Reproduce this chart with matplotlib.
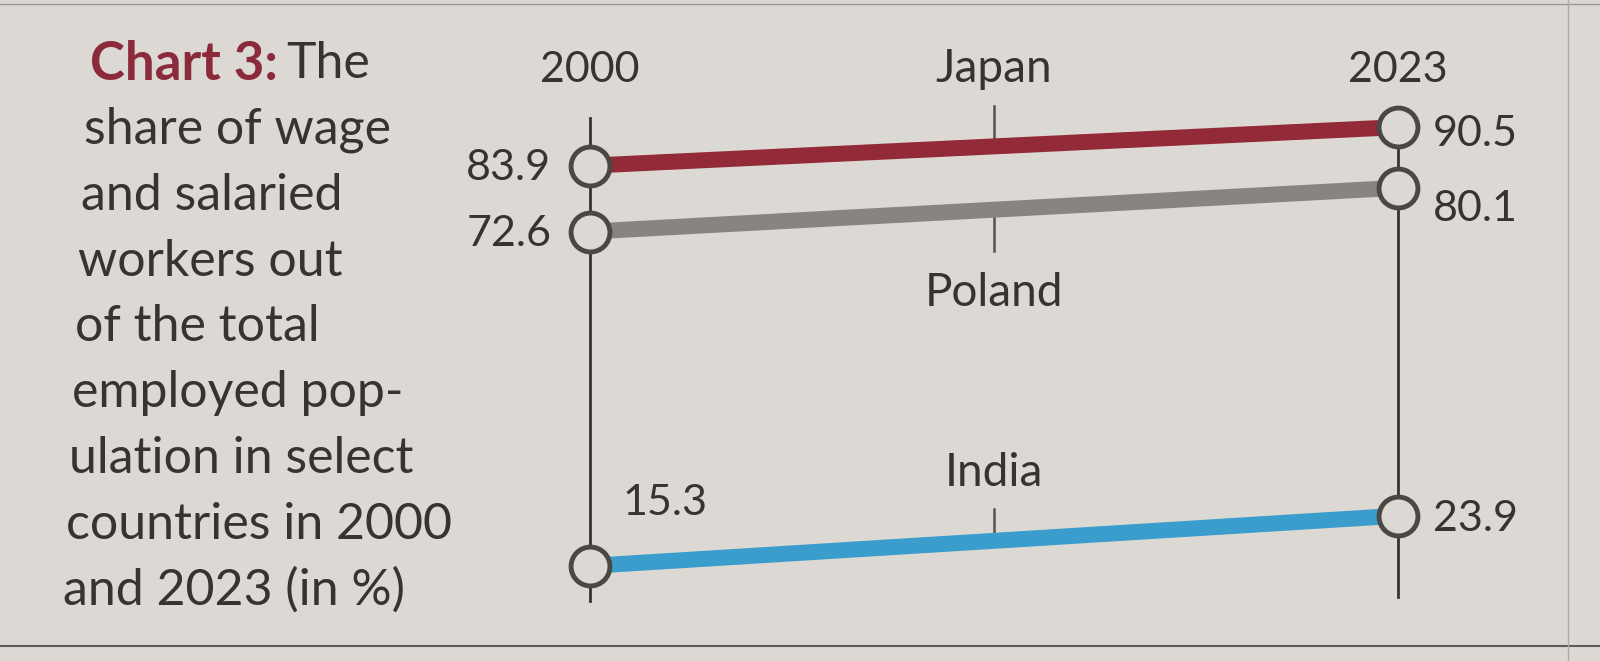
import matplotlib.pyplot as plt

countries = ["Japan", "Poland", "India"]
years = ["2000", "2023"]
share_2000 = [83.9, 72.6, 15.3]
share_2023 = [90.5, 80.1, 23.9]
colors = ["#922a37", "#8a8480", "#3a9dcb"]

caption = ["share of wage", "and salaried", "workers out", "of the total",
           "employed pop-", "ulation in select", "countries in 2000",
           "and 2023 (in %)"]

bg = "#dcd9d4"
ink = "#363432"
plt.rcParams['font.family'] = ['Lato', 'DejaVu Sans']

fig = plt.figure(figsize=(16, 6.61), dpi=100, facecolor=bg)

# caption block on the left (slight slant like the printed page)
fig.text(90 / 1600, 1 - 64 / 661, "Chart 3:", color="#8b2a3a", fontsize=38,
         fontweight="bold", va="center", ha="left")
fig.text(286 / 1600, 1 - 64 / 661, "The", color=ink, fontsize=36, va="center", ha="left")
for i, line in enumerate(caption):
    fig.text((84 - i * 3) / 1600, 1 - (130 + i * 65.8) / 661, line, color=ink,
             fontsize=36, va="center", ha="left")

# frame lines of the newspaper box
fig.add_artist(plt.Line2D([0, 1], [1 - 646 / 661] * 2, color="#5e5b58", lw=1.5))
fig.add_artist(plt.Line2D([0, 1], [1 - 4 / 661] * 2, color="#9a9792", lw=1))
fig.add_artist(plt.Line2D([1568 / 1600] * 2, [0, 1], color="#aeaba6", lw=1))

ax = fig.add_axes([590 / 1600, 5.8 / 661, 808 / 1600, 583.5 / 661])
ax.set_xlim(0, 1)
ax.set_ylim(0, 100)
ax.axis("off")

# the two vertical year axes
ax.plot([0, 0], [9.3, 92], color=ink, lw=2, clip_on=False, zorder=1)
ax.plot([1, 1], [10, 91], color=ink, lw=2, clip_on=False, zorder=1)
for x, yr in zip([0, 1], years):
    ax.text(x, 100.3, yr, ha="center", va="center", fontsize=31, color=ink, clip_on=False)

mid = 0.5
tick_len = [7, -7, 5.5]
label_off = [13.2, -14.3, 11.6]
right_off = [-1.2, -3.6, -0.5]
for c, a, b, col, tl, lo, ro in zip(countries, share_2000, share_2023, colors,
                                     tick_len, label_off, right_off):
    ax.plot([0, 1], [a, b], color=col, lw=11.5, solid_capstyle="butt", zorder=2, clip_on=False)
    ax.plot([0, 1], [a, b], "o", ms=28, mfc=bg, mec="#4a4745", mew=3.5, zorder=3, clip_on=False)
    ym = a + mid * (b - a)
    ax.plot([mid, mid], [ym, ym + tl], color="#55524f", lw=1.8, zorder=1)
    ax.text(mid, ym + lo, c, ha="center", va="center", fontsize=33, color=ink)
    ax.text(1.043, b + ro, f"{b}", ha="left", va="center", fontsize=31, color=ink, clip_on=False)

ax.text(-0.048, share_2000[0] - 0.4, f"{share_2000[0]}", ha="right", va="center", fontsize=31, color=ink)
ax.text(-0.048, share_2000[1] - 0.4, f"{share_2000[1]}", ha="right", va="center", fontsize=31, color=ink)
ax.text(0.04, share_2000[2] + 10.7, f"{share_2000[2]}", ha="left", va="center", fontsize=31, color=ink)

fig.savefig("out.png", dpi=100, facecolor=bg)
